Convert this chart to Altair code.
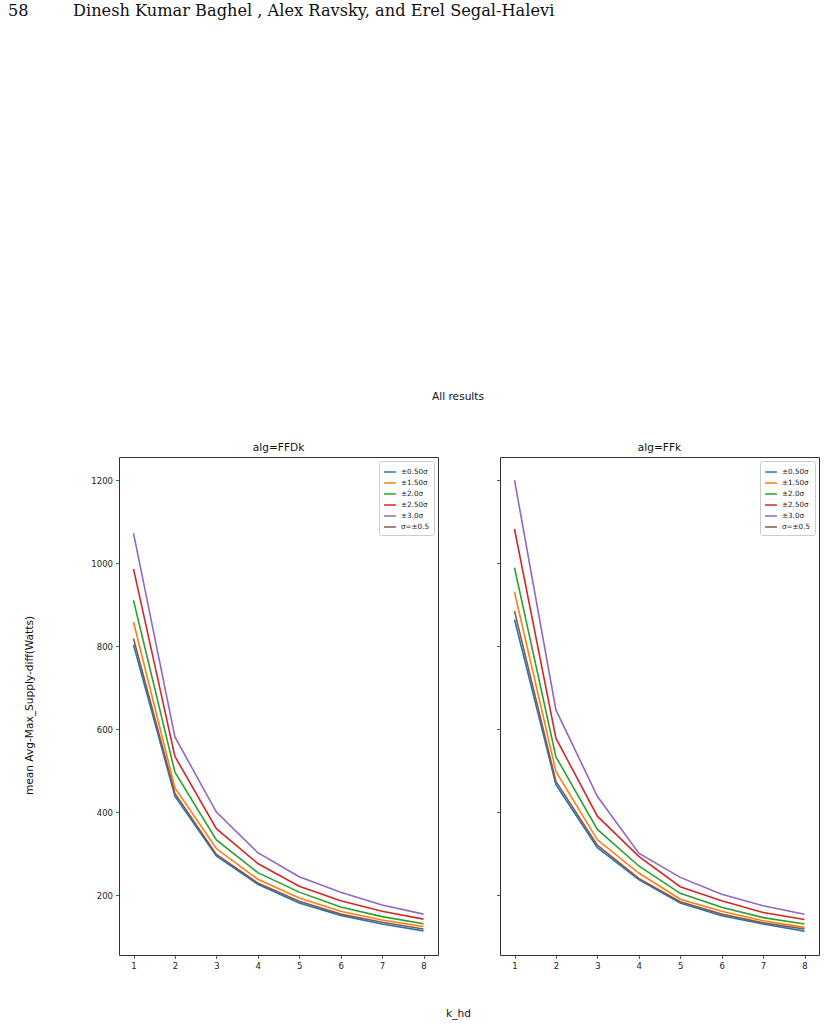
import altair as alt
import pandas as pd

# k_hd values on the x axis
k_hd = [1, 2, 3, 4, 5, 6, 7, 8]

series_names = ["±0.50σ", "±1.50σ", "±2.0σ", "±2.50σ", "±3.0σ", "σ=±0.5"]
series_colors = ["#1f77b4", "#ff7f0e", "#2ca02c", "#d62728", "#9467bd", "#8c564b"]

# mean Avg-Max_Supply-diff (Watts), algorithm FFDk
ffdk_050 = [803, 438, 294, 226, 181, 151, 130, 113.6]
ffdk_150 = [858, 458, 312, 238, 193, 161, 140, 124]
ffdk_20 = [910, 496, 333, 254, 207, 171, 148, 131]
ffdk_250 = [986, 534, 360, 276, 221, 186, 161, 142]
ffdk_30 = [1072, 581, 400, 302, 244, 206.5, 176, 154]
ffdk_sigma05 = [818, 445, 298, 229, 185, 154, 134.5, 118]

# mean Avg-Max_Supply-diff (Watts), algorithm FFk
ffk_050 = [864, 466, 314, 237, 181, 150, 130, 113]
ffk_150 = [930, 498, 333, 253, 190, 161, 138, 122]
ffk_20 = [989, 533, 358, 270, 204, 170.5, 145.5, 130]
ffk_250 = [1082, 578, 390, 293, 220, 186, 158, 141]
ffk_30 = [1200, 646, 438, 301, 242.5, 202, 174, 153.6]
ffk_sigma05 = [884, 474, 320, 240, 184, 154, 133, 118]

y_ticks = [200, 400, 600, 800, 1000, 1200]

header_page = "58"
header_authors = "Dinesh Kumar Baghel , Alex Ravsky, and Erel Segal-Halevi"
suptitle = "All results"

series_by_alg = {
    "FFDk": [ffdk_050, ffdk_150, ffdk_20, ffdk_250, ffdk_30, ffdk_sigma05],
    "FFk": [ffk_050, ffk_150, ffk_20, ffk_250, ffk_30, ffk_sigma05],
}

rows = []
for alg, series_list in series_by_alg.items():
    for name, vals in zip(series_names, series_list):
        for k, v in zip(k_hd, vals):
            rows.append({"alg": alg, "series": name, "k_hd": k, "value": v})
df = pd.DataFrame(rows)

SANS = "DejaVu Sans"
SERIF = "DejaVu Serif"
W, H = 319, 498


def label(text, x, y, font=SANS, size=10.6, align="center", baseline="middle"):
    return alt.Chart(pd.DataFrame({"t": [text]})).mark_text(
        font=font, fontSize=size, align=align, baseline=baseline, color="#111111"
    ).encode(x=alt.value(x), y=alt.value(y), text="t:N")


def panel(alg, first):
    data = df[df["alg"] == alg]
    x_axis = alt.Axis(
        values=k_hd,
        format="d",
        grid=False,
        title="k_hd" if first else "",
        titleX=339,
        titleY=58,
        titleBaseline="middle",
        titleAlign="center",
    )
    y_axis = alt.Axis(
        values=y_ticks,
        format="d",
        grid=False,
        labels=first,
        title="mean Avg-Max_Supply-diff(Watts)" if first else "",
        titleX=-90,
        titleY=248,
        titleBaseline="middle",
        titleAlign="center",
        titleAngle=270,
    )
    lines = alt.Chart(data).mark_line(strokeWidth=1.6, clip=True).encode(
        x=alt.X("k_hd:Q", scale=alt.Scale(domain=[0.65, 8.35], nice=False, zero=False), axis=x_axis),
        y=alt.Y("value:Q", scale=alt.Scale(domain=[55.5, 1255.5], nice=False, zero=False), axis=y_axis),
        color=alt.Color(
            "series:N",
            title=None,
            scale=alt.Scale(domain=series_names, range=series_colors),
            sort=series_names,
            legend=alt.Legend(
                orient="top-right",
                offset=4,
                padding=4,
                strokeColor="#cccccc",
                fillColor="white",
                cornerRadius=2,
                labelFont=SANS,
                labelFontSize=7.2,
                labelColor="#222222",
                labelOffset=4,
                symbolType="stroke",
                symbolStrokeWidth=1.5,
                symbolSize=140,
                rowPadding=0,
            ),
        ),
    )
    # panel heading drawn as text so that it sits just above the frame
    layers = [lines, label("alg=" + alg, W / 2, -9)]
    if first:
        layers += [
            label(header_page, -111, -441, font=SERIF, size=16.2, align="left", baseline="alphabetic"),
            label(header_authors, -46, -441, font=SERIF, size=16.2, align="left", baseline="alphabetic"),
            label(suptitle, 339, -60),
        ]
    return alt.layer(*layers).properties(width=W, height=H)


chart = (
    alt.hconcat(panel("FFDk", True), panel("FFk", False), spacing=62, bounds="flush")
    .resolve_legend(color="independent")
    .properties(padding={"left": 7, "top": 2, "right": 5, "bottom": 5}, background="white")
    .configure_view(stroke="#333333", strokeWidth=1)
    .configure_axis(
        grid=False,
        domain=False,
        tickColor="#333333",
        tickWidth=0.8,
        tickSize=3.5,
        labelFont=SANS,
        labelFontSize=8.5,
        labelColor="#222222",
        labelPadding=3,
        titleFont=SANS,
        titleFontSize=10.6,
        titleFontWeight="normal",
        titleColor="#111111",
    )
)

chart.save("out.html", embed_options={"renderer": "svg", "actions": False})
